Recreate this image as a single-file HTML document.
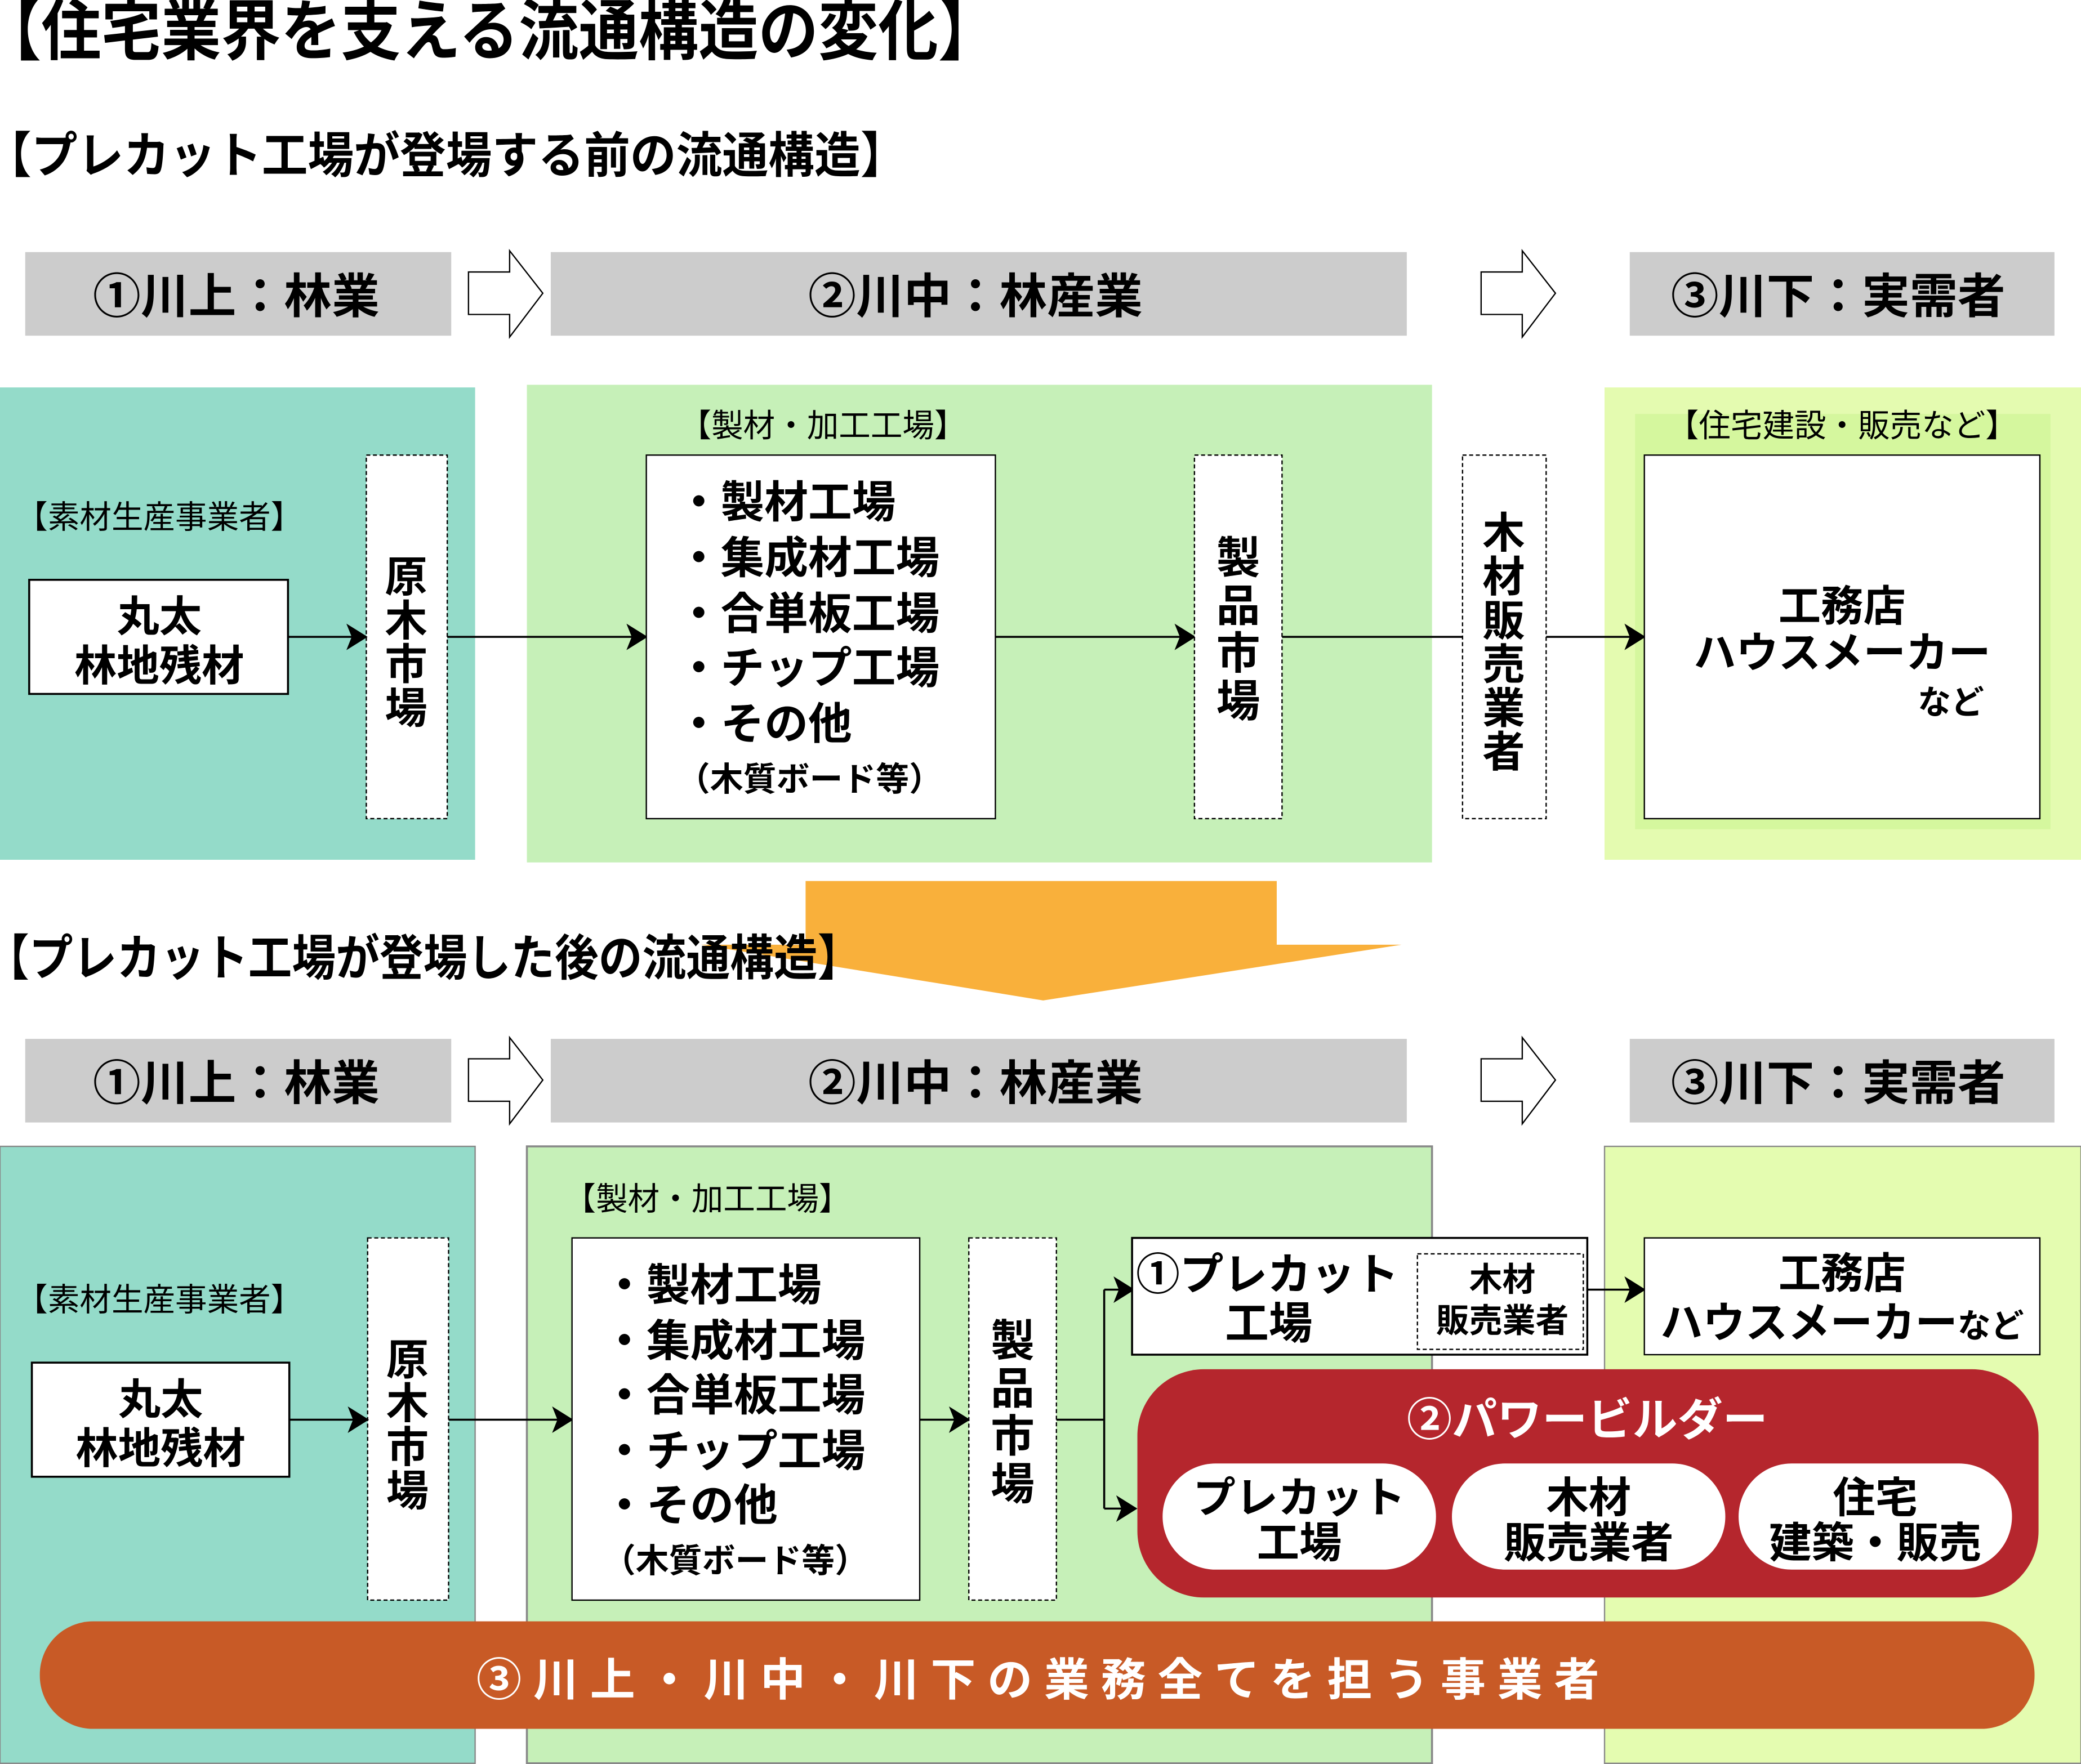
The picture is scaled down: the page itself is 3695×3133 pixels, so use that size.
<!DOCTYPE html>
<html><head><meta charset="utf-8"><style>html,body{margin:0;padding:0;background:#fff}svg{display:block}text{font-family:"Liberation Sans","Noto Sans CJK JP",sans-serif;font-weight:bold}</style></head>
<body>
<svg xmlns="http://www.w3.org/2000/svg" width="3695" height="3133" viewBox="0 0 1568 1329.5">
<defs><marker id="ah2" markerWidth="16" markerHeight="20" refX="15" refY="10" orient="auto" markerUnits="userSpaceOnUse"><path d="M0,0 L16,10 L0,20 L4,10z" fill="#000"/></marker></defs>
<rect width="1568" height="1330" fill="#fff"/>
<text x="-14" y="41" font-size="50" textLength="766" lengthAdjust="spacingAndGlyphs">【住宅業界を支える流通構造の変化】</text>
<text x="-11" y="130" font-size="37" textLength="694" lengthAdjust="spacingAndGlyphs">【プレカット工場が登場する前の流通構造】</text>

<g id="hdr">
<rect x="19" y="190" width="321" height="63" fill="#cccccc"/>
<rect x="415" y="190" width="645" height="63" fill="#cccccc"/>
<rect x="1228" y="190" width="320" height="63" fill="#cccccc"/>
<text x="178" y="236" font-size="36" text-anchor="middle">①川上：林業</text>
<text x="735" y="236" font-size="36" text-anchor="middle">②川中：林産業</text>
<text x="1385" y="236" font-size="36" text-anchor="middle">③川下：実需者</text>
<path d="M353,205 H384 V189 L409,221 L384,254 V237 H353z" fill="#fff" stroke="#000" stroke-width="1"/>
<path d="M1116,205 H1147 V189 L1172,221 L1147,254 V237 H1116z" fill="#fff" stroke="#000" stroke-width="1"/>
</g>

<rect x="0" y="292" width="358" height="356" fill="#94dbc9"/>
<rect x="397" y="290" width="682" height="360" fill="#c6f0b8"/>
<rect x="1209" y="292" width="359" height="356" fill="#e4fbb0"/>
<rect x="1232" y="312" width="313" height="313" fill="#d5f79e"/>
<text x="120" y="398" font-size="24" text-anchor="middle" style="font-weight:normal">【素材生産事業者】</text>
<rect x="22" y="437" width="195" height="86" fill="#fff" stroke="#000" stroke-width="1.5"/>
<text x="120" y="476" font-size="32" text-anchor="middle">丸太</text>
<text x="120" y="513" font-size="32" text-anchor="middle">林地残材</text>
<rect x="276" y="343" width="61" height="274" fill="#fff" stroke="#000" stroke-width="1" stroke-dasharray="3,2"/>
<g font-size="32" text-anchor="middle" style="font-weight:normal"><text x="306" y="446">原</text><text x="306" y="479">木</text><text x="306" y="512">市</text><text x="306" y="545">場</text></g>
<line x1="217" y1="480" x2="276" y2="480" stroke="#000" stroke-width="1.5" marker-end="url(#ah2)"/>
<line x1="337" y1="480" x2="487" y2="480" stroke="#000" stroke-width="1.5" marker-end="url(#ah2)"/>
<text x="620" y="329" font-size="24" text-anchor="middle" style="font-weight:normal">【製材・加工工場】</text>
<rect x="487" y="343" width="263" height="274" fill="#fff" stroke="#000" stroke-width="1"/>
<g font-size="33"><text x="510" y="390">・製材工場</text><text x="510" y="432">・集成材工場</text><text x="510" y="474">・合単板工場</text><text x="510" y="515">・チップ工場</text><text x="510" y="557">・その他</text></g>
<text x="510" y="596" font-size="25">（木質ボード等）</text>
<line x1="750" y1="480" x2="900" y2="480" stroke="#000" stroke-width="1.5" marker-end="url(#ah2)"/>
<rect x="900" y="343" width="66" height="274" fill="#fff" stroke="#000" stroke-width="1" stroke-dasharray="3,2"/>
<g font-size="33" text-anchor="middle"><text x="933" y="432">製</text><text x="933" y="468">品</text><text x="933" y="504">市</text><text x="933" y="540">場</text></g>
<line x1="966" y1="480" x2="1102" y2="480" stroke="#000" stroke-width="1.5"/>
<rect x="1102" y="343" width="63" height="274" fill="#fff" stroke="#000" stroke-width="1" stroke-dasharray="3,2"/>
<g font-size="32" text-anchor="middle"><text x="1133" y="413">木</text><text x="1133" y="446">材</text><text x="1133" y="479">販</text><text x="1133" y="512">売</text><text x="1133" y="545">業</text><text x="1133" y="578">者</text></g>
<line x1="1165" y1="480" x2="1239" y2="480" stroke="#000" stroke-width="1.5" marker-end="url(#ah2)"/>
<text x="1388" y="329" font-size="24" text-anchor="middle" style="font-weight:normal">【住宅建設・販売など】</text>
<rect x="1239" y="343" width="298" height="274" fill="#fff" stroke="#000" stroke-width="1"/>
<text x="1388" y="468" font-size="32" text-anchor="middle">工務店</text>
<text x="1388" y="503" font-size="32" text-anchor="middle">ハウスメーカー</text>
<text x="1470" y="538" font-size="25" text-anchor="middle">など</text>

<path d="M607,664 H962 V712 H1056 L786,754 L528,712 H607z" fill="#f9b03b"/>
<text x="-11" y="735" font-size="37" textLength="660" lengthAdjust="spacingAndGlyphs">【プレカット工場が登場した後の流通構造】</text>

<use href="#hdr" transform="translate(0,593)"/>

<rect x="0" y="864" width="358" height="465" fill="#94dbc9" stroke="#888" stroke-width="1"/>
<rect x="397" y="864" width="682" height="465" fill="#c6f0b8" stroke="#888" stroke-width="1.5"/>
<rect x="1209" y="864" width="359" height="465" fill="#e4fcb0" stroke="#888" stroke-width="1"/>
<text x="120" y="988" font-size="24" text-anchor="middle" style="font-weight:normal">【素材生産事業者】</text>
<rect x="24" y="1027" width="194" height="86" fill="#fff" stroke="#000" stroke-width="1.5"/>
<text x="121" y="1066" font-size="32" text-anchor="middle">丸太</text>
<text x="121" y="1103" font-size="32" text-anchor="middle">林地残材</text>
<rect x="277" y="933" width="61" height="273" fill="#fff" stroke="#000" stroke-width="1" stroke-dasharray="3,2"/>
<g font-size="32" text-anchor="middle" style="font-weight:normal"><text x="307" y="1036">原</text><text x="307" y="1069">木</text><text x="307" y="1102">市</text><text x="307" y="1135">場</text></g>
<line x1="218" y1="1070" x2="277" y2="1070" stroke="#000" stroke-width="1.5" marker-end="url(#ah2)"/>
<line x1="338" y1="1070" x2="431" y2="1070" stroke="#000" stroke-width="1.5" marker-end="url(#ah2)"/>
<text x="533" y="912" font-size="24" text-anchor="middle" style="font-weight:normal">【製材・加工工場】</text>
<rect x="431" y="933" width="262" height="273" fill="#fff" stroke="#000" stroke-width="1"/>
<g font-size="33"><text x="454" y="980">・製材工場</text><text x="454" y="1022">・集成材工場</text><text x="454" y="1063">・合単板工場</text><text x="454" y="1105">・チップ工場</text><text x="454" y="1146">・その他</text></g>
<text x="454" y="1185" font-size="25">（木質ボード等）</text>
<line x1="693" y1="1070" x2="730" y2="1070" stroke="#000" stroke-width="1.5" marker-end="url(#ah2)"/>
<rect x="730" y="933" width="66" height="273" fill="#fff" stroke="#000" stroke-width="1" stroke-dasharray="3,2"/>
<g font-size="33" text-anchor="middle"><text x="763" y="1022">製</text><text x="763" y="1058">品</text><text x="763" y="1094">市</text><text x="763" y="1130">場</text></g>
<path d="M796,1070 H832 V972 M832,1070 V1137" fill="none" stroke="#000" stroke-width="1.5"/>
<line x1="832" y1="972" x2="854" y2="972" stroke="#000" stroke-width="1.5" marker-end="url(#ah2)"/>
<line x1="832" y1="1137" x2="856" y2="1137" stroke="#000" stroke-width="1.5" marker-end="url(#ah2)"/>
<rect x="853" y="933" width="343" height="88" fill="#fff" stroke="#000" stroke-width="1.5"/>
<text x="856" y="972" font-size="33">①プレカット</text>
<text x="956" y="1009" font-size="33" text-anchor="middle">工場</text>
<rect x="1068" y="945" width="125" height="72" fill="none" stroke="#000" stroke-width="1" stroke-dasharray="3,2"/>
<text x="1132" y="973" font-size="25" text-anchor="middle">木材</text>
<text x="1132" y="1004" font-size="25" text-anchor="middle">販売業者</text>
<line x1="1196" y1="972" x2="1239" y2="972" stroke="#000" stroke-width="1.5" marker-end="url(#ah2)"/>
<rect x="1239" y="933" width="298" height="88" fill="#fff" stroke="#000" stroke-width="1"/>
<text x="1388" y="971" font-size="32" text-anchor="middle">工務店</text>
<text x="1388" y="1008" font-size="32" text-anchor="middle">ハウスメーカー<tspan font-size="25">など</tspan></text>

<rect x="857" y="1032" width="679" height="172" rx="50" fill="#b5262d"/>
<text x="1196" y="1082" font-size="34" text-anchor="middle" fill="#fff">②パワービルダー</text>
<rect x="876" y="1103" width="206" height="80" rx="40" fill="#fff"/>
<rect x="1094" y="1103" width="206" height="80" rx="40" fill="#fff"/>
<rect x="1310" y="1103" width="206" height="80" rx="40" fill="#fff"/>
<g font-size="32" text-anchor="middle"><text x="979" y="1140">プレカット</text><text x="979" y="1174">工場</text>
<text x="1197" y="1140">木材</text><text x="1197" y="1174">販売業者</text>
<text x="1413" y="1140">住宅</text><text x="1413" y="1174">建築・販売</text></g>

<rect x="30" y="1222" width="1503" height="81" rx="40" fill="#c85a26"/>
<text x="782" y="1278" font-size="34" text-anchor="middle" fill="#fff" textLength="846" lengthAdjust="spacing">③川上・川中・川下の業務全てを担う事業者</text>
</svg>
</body></html>
